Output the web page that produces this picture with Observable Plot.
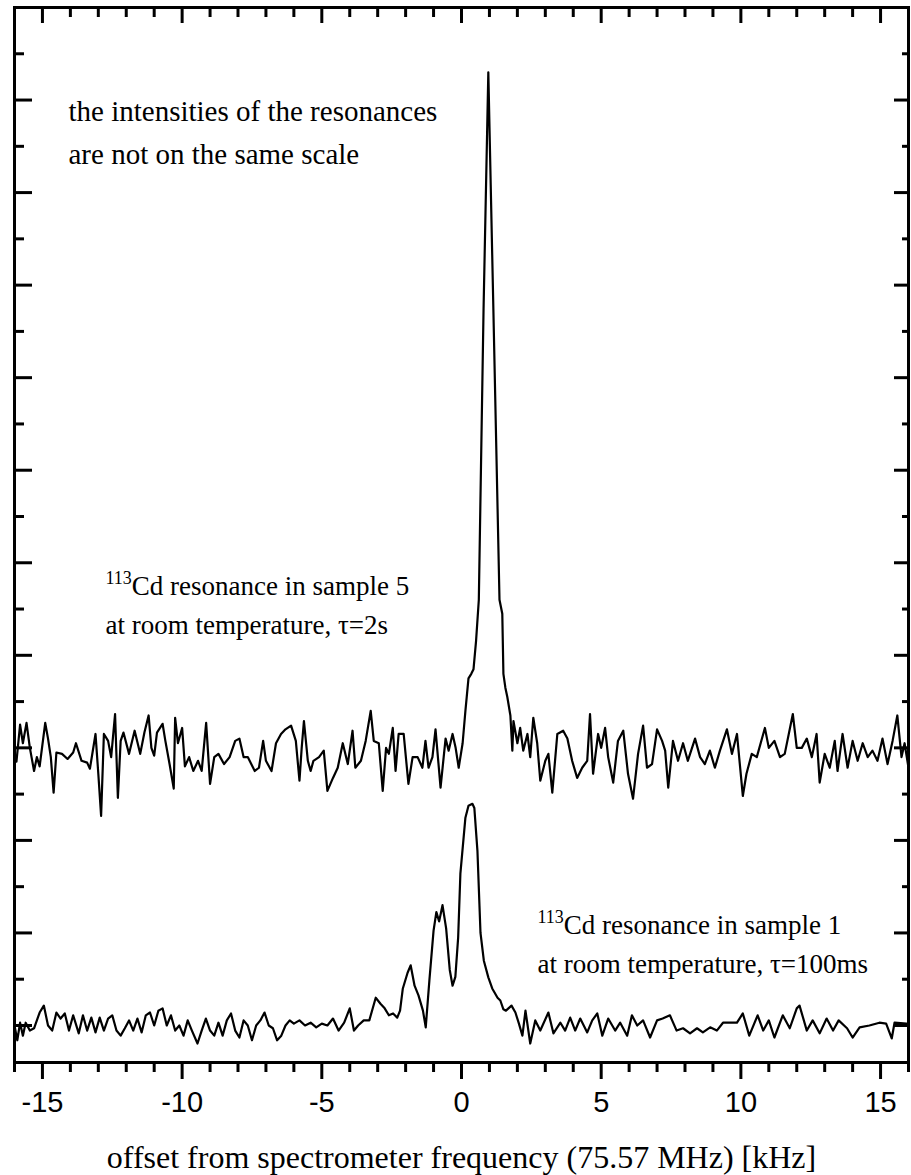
<!DOCTYPE html>
<html><head><meta charset="utf-8">
<script src="https://cdn.jsdelivr.net/npm/d3@7"></script>
<script src="https://cdn.jsdelivr.net/npm/@observablehq/plot@0.6"></script>
<style>body{margin:0;background:#fff;} svg{display:block}</style>
</head><body><div id="chart"></div>
<script>
// Upper trace: sample 5, tau = 2 s  (offset in kHz, intensity in arbitrary units)
const upperX = [-15.93,-15.8,-15.7,-15.57,-15.45,-15.3,-15.2,-15.1,-14.9,-14.8,-14.7,-14.6,-14.5,-14.3,-14.1,-13.9,-13.8,-13.6,-13.4,-13.3,-13.1,-13.0,-12.9,-12.8,-12.65,-12.54,-12.4,-12.3,-12.2,-12.1,-11.9,-11.7,-11.5,-11.35,-11.2,-11.1,-11.0,-10.9,-10.7,-10.6,-10.45,-10.3,-10.25,-10.15,-10.0,-9.9,-9.75,-9.6,-9.43,-9.3,-9.14,-9.0,-8.85,-8.7,-8.5,-8.3,-8.1,-7.95,-7.8,-7.65,-7.4,-7.25,-7.1,-7.0,-6.8,-6.64,-6.46,-6.3,-6.1,-5.93,-5.8,-5.72,-5.64,-5.5,-5.4,-5.3,-5.1,-4.93,-4.8,-4.6,-4.43,-4.25,-4.07,-3.9,-3.8,-3.6,-3.43,-3.25,-3.14,-2.96,-2.82,-2.7,-2.6,-2.46,-2.36,-2.25,-2.07,-1.9,-1.75,-1.57,-1.4,-1.29,-1.18,-1.04,-0.93,-0.75,-0.57,-0.46,-0.32,-0.21,-0.1,0.04,0.14,0.25,0.35,0.43,0.52,0.62,0.79,0.96,1.14,1.36,1.46,1.5,1.57,1.64,1.75,1.82,1.86,2.0,2.1,2.21,2.36,2.46,2.57,2.71,2.82,3.0,3.11,3.25,3.43,3.64,3.79,3.96,4.14,4.32,4.5,4.6,4.71,4.89,5.0,5.14,5.25,5.43,5.6,5.79,5.96,6.14,6.32,6.5,6.64,6.82,7.0,7.18,7.29,7.4,7.57,7.75,7.93,8.1,8.36,8.54,8.71,8.89,9.07,9.25,9.5,9.68,9.86,10.07,10.2,10.39,10.57,10.86,11.0,11.2,11.4,11.57,11.86,12.0,12.18,12.36,12.54,12.71,12.82,13.0,13.18,13.36,13.46,13.64,13.82,14.0,14.18,14.36,14.54,14.71,14.89,15.07,15.25,15.43,15.6,15.75,15.86,16.0];
const upperY = [57,65,61,65.4,60,55,58,56,65.4,62,58,50.3,59,58.7,57.6,59,61,57.2,56.8,55.5,63,54.4,45.3,63,61.5,58,67.3,49.2,61.5,63.3,58.7,63.7,58.7,63.3,67,60,58.3,63.3,65.2,61.5,56.5,51.2,66.5,61,64.3,56,58,55,57.2,55,65.4,52.2,58,58.7,56.5,58,61.5,62,58,58,55,55.7,61.5,57.2,55,61,63,64,64.8,61.5,52.9,60,65.8,57.2,55,57.2,58,59.4,50.7,53.5,55.7,61,56.5,63.7,55.7,57.2,61.5,68,61.5,61,50.7,60,58.7,64.3,55,63,63,52.2,58,58,55.7,61.5,55.7,58,64,51.4,62,59.4,63,60,55.7,61,68,75,76,77,83,92,155,206,155,92,89,76,73,71,67,59.4,65.8,61,64.3,59.4,63,58,66.5,61,52.9,57.2,58.7,50.3,63,63.7,62,57.2,53.5,55.7,57.2,67.3,54.4,63,60,64.3,58,52.5,61.5,63.7,54.4,49,58.7,64.8,55.7,56.5,64,61.5,59.4,51.4,61.5,57.2,61,57.2,62,58,56.5,59.4,55.7,59.4,64,58.7,63,49.6,54.4,58.7,58,64.3,60,61.5,58,58.7,67.3,60,60,62,58,63,52.5,58.7,55.7,61.5,55,63,55.7,61.5,57.2,61,58,59.4,57.2,62,56.5,61.5,67,58,61,55.7];

// Lower trace: sample 1, tau = 100 ms
const lowerX = [-16.0,-15.9,-15.8,-15.7,-15.6,-15.45,-15.3,-15.1,-14.95,-14.8,-14.65,-14.5,-14.35,-14.2,-14.05,-13.9,-13.7,-13.55,-13.4,-13.25,-13.1,-12.95,-12.8,-12.65,-12.5,-12.35,-12.2,-12.05,-11.9,-11.75,-11.6,-11.45,-11.3,-11.15,-11.0,-10.85,-10.7,-10.55,-10.4,-10.25,-10.1,-9.95,-9.8,-9.65,-9.45,-9.3,-9.15,-9.0,-8.85,-8.7,-8.55,-8.4,-8.25,-8.1,-7.95,-7.8,-7.65,-7.5,-7.35,-7.2,-7.05,-6.9,-6.75,-6.6,-6.45,-6.3,-6.15,-6.0,-5.8,-5.6,-5.4,-5.2,-5.0,-4.8,-4.6,-4.4,-4.2,-4.0,-3.85,-3.7,-3.5,-3.3,-3.07,-2.9,-2.75,-2.6,-2.45,-2.3,-2.2,-2.1,-1.93,-1.82,-1.68,-1.54,-1.38,-1.28,-1.15,-1.0,-0.9,-0.8,-0.68,-0.55,-0.42,-0.32,-0.22,-0.12,-0.04,0.14,0.25,0.39,0.46,0.57,0.68,0.8,0.96,1.1,1.29,1.39,1.5,1.59,1.68,1.79,1.93,2.05,2.18,2.29,2.46,2.64,2.82,3.11,3.29,3.54,3.71,3.89,4.07,4.25,4.5,4.68,4.86,5.04,5.25,5.5,5.68,5.93,6.1,6.29,6.5,6.75,7.0,7.2,7.46,7.7,7.93,8.18,8.43,8.64,8.9,9.14,9.36,9.86,10.07,10.3,10.6,10.8,11.0,11.2,11.5,11.75,12.0,12.1,12.36,12.57,12.82,13.07,13.3,13.5,13.8,14.0,14.25,14.6,14.96,15.2,15.4,15.5,15.93];
const lowerY = [0,-3.2,0.6,-2.2,0.6,-1.1,-0.6,2.8,4.3,0,-1.1,2.8,1.5,2.6,-1.1,2.2,-1.7,2.2,-1.1,1.7,-1.5,1.7,-1.1,1.5,2.2,-1.1,-2.2,-0.6,1.1,-1.1,1.5,-1.5,2.2,2.8,0,3.2,3.7,0,2.2,-1.1,0,-2.2,1.1,-1.1,-3.9,-1.1,1.5,-1.1,-2.2,0.6,-2.2,1.1,2.6,-1.1,-2.6,1.1,0,-3.2,0,1.1,2.8,0,-0.6,-3.2,-2.2,0,1.1,0.4,1.1,0,0.6,-0.4,0.4,0,1.5,-1.1,0.6,3.7,-1.1,0,1.1,1.1,6.0,4.7,3.7,2.2,2.6,1.7,3.2,8.0,11.4,13.0,8.6,6.5,3.2,-0.4,9.7,20.5,24.5,22.5,26.0,21.0,12.0,8.6,10.5,19.0,32.8,44.9,47.5,47.9,47.0,37.8,20.0,14.0,10.4,8.0,6.0,5.4,3.5,3.2,3.7,4.3,2.8,0.5,-2.2,3.2,-3.9,1.1,-1.1,2.8,-1.7,0.6,-1.1,1.7,-1.1,1.5,-1.5,1.1,2.6,-2.2,1.5,-1.1,0.6,-2.2,2.2,0,1.1,-2.6,1.1,1.5,2.2,-1.1,-0.6,-1.7,-0.6,-1.5,-0.4,-1.1,0.6,0.6,2.6,-2.2,2.2,-1.1,1.1,-2.6,2.2,-0.6,3.7,4.3,-1.1,1.1,-1.7,1.5,-1.1,1.1,-0.6,-2.6,-0.4,0,0.6,0.4,-2.8,0.6,0.4];

const xMajorTicks = [-15,-10,-5,0,5,10,15];
const xTickLabels = ["-15","-10","-5","0","5","10","15"];
const xMinorTicks = [-16,-14,-13,-12,-11,-9,-8,-7,-6,-4,-3,-2,-1,1,2,3,4,6,7,8,9,11,12,13,14,16];
const yMajorTicks = [0,20,40,60,80,100,120,140,160,180,200,220];
const yMinorTicks = [10,30,50,70,90,110,130,150,170,190,210];

const xTitle = "offset from spectrometer frequency (75.57 MHz) [kHz]";
const noteLines = ["the intensities of the resonances", "are not on the same scale"];
const upperLabel = ["113Cd resonance in sample 5", "at room temperature, τ=2s"];
const lowerLabel = ["113Cd resonance in sample 1", "at room temperature, τ=100ms"];

const upper = upperX.map((x, i) => ({x, y: upperY[i]}));
const lower = lowerX.map((x, i) => ({x, y: lowerY[i]}));

const W = 911, H = 1175, mL = 14, mR = 3, mT = 7, mB = 113;
const fw = W - mL - mR, fh = H - mT - mB;
const serif = "'Liberation Serif', 'Times New Roman', serif";
const sans = "'Liberation Sans', Arial, sans-serif";

const chart = Plot.plot({
  width: W, height: H,
  marginLeft: mL, marginRight: mR, marginTop: mT, marginBottom: mB,
  style: {background: "white", color: "black"},
  x: {domain: [-16, 16]},
  y: {domain: [-8, 220]},
  marks: [
    Plot.line(upper, {x: "x", y: "y", strokeWidth: 2.2}),
    Plot.line(lower, {x: "x", y: "y", strokeWidth: 2.2}),
    Plot.text([noteLines.join("\n")], {frameAnchor: "top-left", dx: 54, dy: 156, lineAnchor: "bottom",
      lineHeight: 1.48, textAnchor: "start", fontSize: 29, fontFamily: serif}),
    Plot.text([upperLabel[0]], {frameAnchor: "top-left", dx: 91, dy: 587, lineAnchor: "bottom", textAnchor: "start", fontSize: 27, fontFamily: serif}),
    Plot.text([upperLabel[1]], {frameAnchor: "top-left", dx: 91, dy: 626, lineAnchor: "bottom", textAnchor: "start", fontSize: 27, fontFamily: serif}),
    Plot.text([lowerLabel[0]], {frameAnchor: "top-left", dx: 523, dy: 926, lineAnchor: "bottom", textAnchor: "start", fontSize: 27, fontFamily: serif}),
    Plot.text([lowerLabel[1]], {frameAnchor: "top-left", dx: 523, dy: 965, lineAnchor: "bottom", textAnchor: "start", fontSize: 27, fontFamily: serif}),
    Plot.text([xTitle], {frameAnchor: "bottom", dy: 95, lineAnchor: "middle", fontSize: 32, fontFamily: serif}),
    Plot.axisX(xMajorTicks, {anchor: "bottom", tickSize: 17, tickPadding: 12, strokeWidth: 3,
      tickFormat: d => xTickLabels[xMajorTicks.indexOf(d)], fontSize: 29, fontFamily: sans, label: null}),
    Plot.axisX(xMinorTicks, {anchor: "bottom", tickSize: 10, strokeWidth: 3, tickFormat: () => "", label: null}),
    Plot.axisY([], {label: null}),
    // inward ticks on the top edge
    Plot.tickX(xMajorTicks, {x: d => d, insetBottom: fh - 16, strokeWidth: 3}),
    Plot.tickX(xMinorTicks, {x: d => d, insetBottom: fh - 10, strokeWidth: 3}),
    // inward ticks on the left and right edges
    Plot.tickY(yMajorTicks, {y: d => d, insetRight: fw - 18, strokeWidth: 3}),
    Plot.tickY(yMinorTicks, {y: d => d, insetRight: fw - 10, strokeWidth: 3}),
    Plot.tickY(yMajorTicks, {y: d => d, insetLeft: fw - 14, strokeWidth: 3}),
    Plot.tickY(yMinorTicks, {y: d => d, insetLeft: fw - 6, strokeWidth: 3}),
    Plot.frame({strokeWidth: 3})
  ]
});

// render isotope mass numbers as superscripts
d3.select(chart).selectAll("text").each(function() {
  const t = this.textContent;
  if (t.startsWith("113Cd")) {
    const el = d3.select(this);
    el.text(null);
    el.append("tspan").attr("font-size", 18).attr("dy", -11).text("113");
    el.append("tspan").attr("dy", 11).text(t.slice(3));
  }
});
document.getElementById("chart").append(chart);
</script>
</body></html>
